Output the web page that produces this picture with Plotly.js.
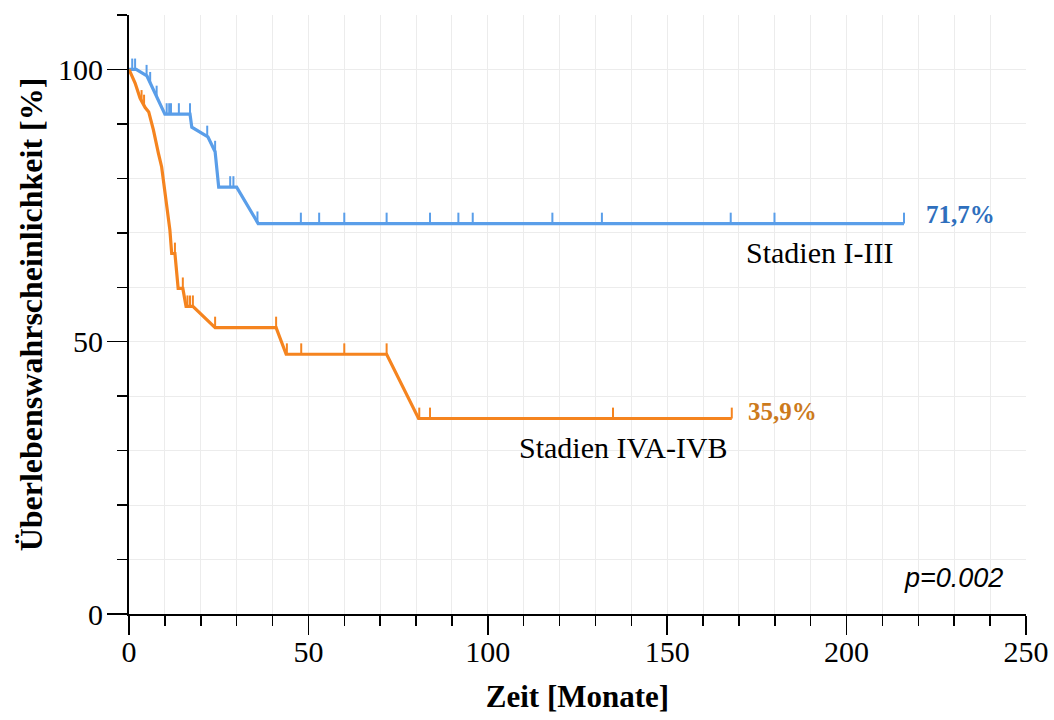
<!DOCTYPE html>
<html>
<head>
<meta charset="utf-8">
<script src="https://cdn.plot.ly/plotly-3.0.1.min.js"></script>
<style>html,body{margin:0;padding:0;background:#fff;}#chart{width:1054px;height:720px;}</style>
</head>
<body>
<div id="chart"></div>
<script>
// Kaplan-Meier curve vertices (time in months, survival in %)
const blueT = [0, 2, 5, 6, 10, 17, 17.5, 22, 24, 25, 30, 36, 216];
const blueS = [100, 100, 98.8, 97.4, 91.8, 91.8, 89.4, 87.6, 84.9, 78.4, 78.4, 71.7, 71.7];
const blueCensor = [0.9, 1.7, 4.9, 5.9, 7.7, 10.5, 11.2, 11.7, 13.9, 17.0, 21.8, 24.0, 28.2, 29.1, 35.8, 47.9, 53.0, 60.0, 71.8, 83.9, 91.8, 95.8, 118.0, 131.8, 167.7, 179.9, 216];

const orangeT = [0, 1.7, 3.1, 4.5, 5.5, 6.8, 8.2, 9.1, 11.4, 11.9, 12.8, 13.7, 15.0, 15.9, 17.8, 24.0, 41.0, 43.8, 71.8, 80.7, 168];
const orangeS = [100, 97.5, 94.7, 93.0, 92.2, 88.9, 84.6, 82.1, 70.5, 66.2, 66.2, 59.8, 59.8, 56.5, 56.5, 52.6, 52.6, 47.7, 47.7, 35.9, 35.9];
const orangeCensor = [3.5, 4.2, 12.8, 15.0, 16.3, 17.0, 17.8, 24.0, 41.0, 44.0, 48.0, 60.0, 71.8, 80.9, 83.9, 134.9, 168];

const groupNames = ["Stadien I-III", "Stadien IVA-IVB"];
const endLabels = ["71,7%", "35,9%"];
const pText = "p=0.002";
const xTickVals = [0, 50, 100, 150, 200, 250];
const yTickVals = [0, 50, 100];

const BLUE = "#5a9ee9", ORANGE = "#f5841f";
const BLUE_TXT = "#2f6fbd", ORANGE_TXT = "#cc7a1c";
const CENSOR_H = 2.0;

function interp(T, S, t) {
  for (let i = 0; i < T.length - 1; i++) {
    if (t >= T[i] && t <= T[i + 1]) {
      const f = (T[i + 1] === T[i]) ? 0 : (t - T[i]) / (T[i + 1] - T[i]);
      return S[i] + f * (S[i + 1] - S[i]);
    }
  }
  return S[S.length - 1];
}
function censorTrace(T, S, C, color) {
  const x = [], y = [];
  C.forEach(t => { const s = interp(T, S, t); x.push(t, t, null); y.push(s, s + CENSOR_H, null); });
  return {x, y, mode: "lines", line: {color, width: 2}, hoverinfo: "skip", showlegend: false, cliponaxis: false};
}

const data = [
  {x: blueT, y: blueS, mode: "lines", line: {color: BLUE, width: 3.2}, name: groupNames[0], showlegend: false},
  censorTrace(blueT, blueS, blueCensor, BLUE),
  {x: orangeT, y: orangeS, mode: "lines", line: {color: ORANGE, width: 3.2}, name: groupNames[1], showlegend: false},
  censorTrace(orangeT, orangeS, orangeCensor, ORANGE)
];

const serif = "Liberation Serif, Times New Roman, serif";
const layout = {
  width: 1054, height: 720,
  margin: {l: 129, r: 28, t: 15, b: 106},
  paper_bgcolor: "#fff", plot_bgcolor: "#fff",
  showlegend: false,
  xaxis: {
    range: [0, 250], tickvals: xTickVals, ticktext: xTickVals.map(String),
    ticks: "outside", ticklen: 19, tickwidth: 1.5, tickcolor: "#000",
    showline: true, linecolor: "#000", linewidth: 2,
    showgrid: true, gridcolor: "#ececec", gridwidth: 1, zeroline: false,
    minor: {dtick: 10, tick0: 0, ticks: "outside", ticklen: 10, tickwidth: 1.5, tickcolor: "#000", showgrid: true, gridcolor: "#ececec", gridwidth: 1},
    tickfont: {family: serif, size: 30, color: "#000"},
    ticklabelstandoff: -9,
    title: {text: "<b>Zeit [Monate]</b>", font: {family: serif, size: 31, color: "#000"}, standoff: 18}
  },
  yaxis: {
    range: [0, 110], tickvals: yTickVals, ticktext: yTickVals.map(String),
    ticks: "outside", ticklen: 20, tickwidth: 1.5, tickcolor: "#000",
    showline: true, linecolor: "#000", linewidth: 2,
    showgrid: true, gridcolor: "#ececec", gridwidth: 1, zeroline: false,
    minor: {dtick: 10, tick0: 0, ticks: "outside", ticklen: 10, tickwidth: 1.5, tickcolor: "#000", showgrid: true, gridcolor: "#ececec", gridwidth: 1},
    tickfont: {family: serif, size: 30, color: "#000"},
    ticklabelstandoff: -2,
    title: {text: "<b>Überlebenswahrscheinlichkeit [%]</b>", font: {family: serif, size: 32, color: "#000"}, standoff: 6}
  },
  annotations: [
    {x: 221.5, y: 73.3, xref: "x", yref: "y", text: "<b>" + endLabels[0] + "</b>", showarrow: false, xanchor: "left", yanchor: "middle", font: {family: serif, size: 25, color: BLUE_TXT}},
    {x: 213.5, y: 66.3, xref: "x", yref: "y", text: groupNames[0], showarrow: false, xanchor: "right", yanchor: "middle", font: {family: serif, size: 30, color: "#000"}},
    {x: 172, y: 37.2, xref: "x", yref: "y", text: "<b>" + endLabels[1] + "</b>", showarrow: false, xanchor: "left", yanchor: "middle", font: {family: serif, size: 25, color: ORANGE_TXT}},
    {x: 167.5, y: 30.5, xref: "x", yref: "y", text: groupNames[1], showarrow: false, xanchor: "right", yanchor: "middle", font: {family: serif, size: 30, color: "#000"}},
    {x: 244.2, y: 6.6, xref: "x", yref: "y", text: "<i>" + pText + "</i>", showarrow: false, xanchor: "right", yanchor: "middle", font: {family: "Liberation Sans, Arial, sans-serif", size: 27, color: "#000"}}
  ]
};

Plotly.newPlot("chart", data, layout, {displayModeBar: false, staticPlot: true});
</script>
</body>
</html>
